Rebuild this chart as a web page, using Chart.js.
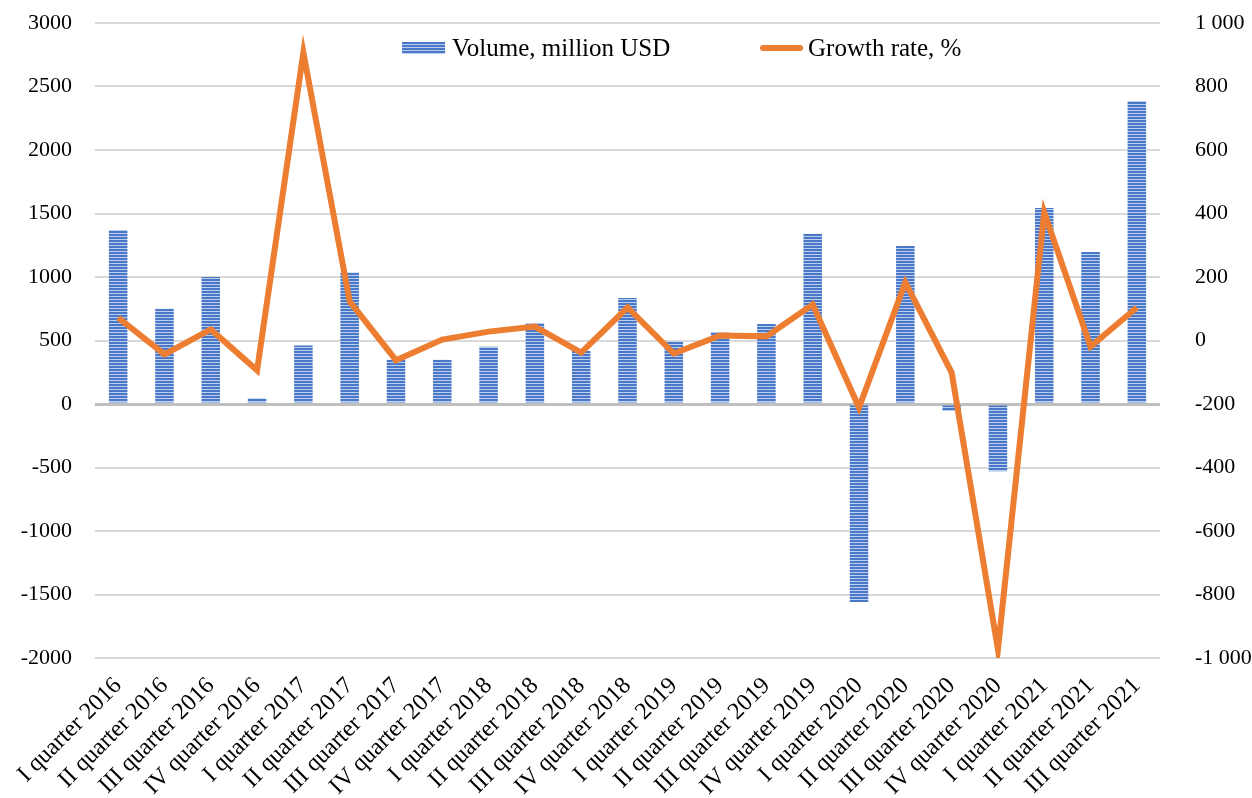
<!DOCTYPE html>
<html>
<head>
<meta charset="utf-8">
<script src="https://cdn.jsdelivr.net/npm/chart.js@4.4.0/dist/chart.umd.min.js"></script>
<style>
  body { margin: 0; background: #fff; }
</style>
</head>
<body>
<canvas id="volume-growth" width="1252" height="798"></canvas>
<script>
// quarters
const quarters = [
  'I quarter 2016', 'II quarter 2016', 'III quarter 2016', 'IV quarter 2016',
  'I quarter 2017', 'II quarter 2017', 'III quarter 2017', 'IV quarter 2017',
  'I quarter 2018', 'II quarter 2018', 'III quarter 2018', 'IV quarter 2018',
  'I quarter 2019', 'II quarter 2019', 'III quarter 2019', 'IV quarter 2019',
  'I quarter 2020', 'II quarter 2020', 'III quarter 2020', 'IV quarter 2020',
  'I quarter 2021', 'II quarter 2021', 'III quarter 2021',
]

// volume, million USD (left axis)
const volume = [
  1370, 750, 1000, 45,
  460, 1035, 348, 348,
  450, 638, 417, 835,
  490, 567, 630, 1340,
  -1560, 1245, -55, -530,
  1543, 1197, 2385,
]

// growth rate, % (right axis)
const growthRate = [
  72, -44, 35, -94,
  907, 123, -62, 3,
  28, 44, -38, 104,
  -41, 16, 13, 113,
  -211, 183, -101, -973,
  403, -19, 104,
]

const leftTicks = [-2000, -1500, -1000, -500, 0, 500, 1000, 1500, 2000, 2500, 3000]
const rightTicks = [-1000, -800, -600, -400, -200, 0, 200, 400, 600, 800, 1000]

const legendLabels = ['Volume, million USD', 'Growth rate, %']

// horizontal stripes like the original bar fill
function stripePattern() {
  const c = document.createElement('canvas')
  c.width = 4
  c.height = 3
  const p = c.getContext('2d')
  p.fillStyle = '#4a78c8'
  p.fillRect(0, 0, 4, 2)
  p.fillStyle = '#bccdee'
  p.fillRect(0, 2, 4, 1)
  return p.createPattern(c, 'repeat')
}

function spaced(v) {
  const s = String(Math.abs(v)).replace(/\B(?=(\d{3})+(?!\d))/g, ' ')
  return (v < 0 ? '-' : '') + s
}

const fontFamily = "'Liberation Serif', 'Times New Roman', serif"
const font = { family: fontFamily, size: 22 }

// legend sits inside the plot, like the original
const insideLegend = {
  id: 'insideLegend',
  afterDatasetsDraw(chart) {
    const { ctx, chartArea } = chart
    const bar = chart.data.datasets[1]
    const line = chart.data.datasets[0]
    const y = chartArea.top + 25
    const x1 = chartArea.left + 307
    const x2 = chartArea.left + 665
    ctx.save()
    ctx.fillStyle = bar.backgroundColor
    ctx.fillRect(x1, y - 6, 43, 12)
    ctx.strokeStyle = line.borderColor
    ctx.lineWidth = line.borderWidth
    ctx.lineCap = 'round'
    ctx.beginPath()
    ctx.moveTo(x2 + 3, y)
    ctx.lineTo(x2 + 40, y)
    ctx.stroke()
    ctx.fillStyle = '#000'
    ctx.font = '25px ' + fontFamily
    ctx.textBaseline = 'middle'
    ctx.fillText(legendLabels[0], x1 + 50, y + 1)
    ctx.fillText(legendLabels[1], x2 + 48, y + 1)
    ctx.restore()
  },
}

const ctx = document.getElementById('volume-growth').getContext('2d')

const chart = new Chart(ctx, {
  data: {
    labels: quarters,
    datasets: [
      {
        type: 'line',
        label: legendLabels[1],
        data: growthRate,
        yAxisID: 'y1',
        borderColor: '#ed7d31',
        backgroundColor: '#ed7d31',
        borderWidth: 6,
        pointRadius: 0,
        tension: 0,
        order: 1,
      },
      {
        type: 'bar',
        label: legendLabels[0],
        data: volume,
        yAxisID: 'y',
        backgroundColor: stripePattern(),
        borderWidth: 0,
        categoryPercentage: 1,
        barPercentage: 0.4,
        order: 2,
      },
    ],
  },
  options: {
    responsive: false,
    animation: false,
    layout: { padding: { top: 23, right: 0, left: 0, bottom: 0 } },
    scales: {
      x: {
        grid: { display: false },
        border: { display: false },
        ticks: {
          font: { family: fontFamily, size: 24 },
          color: '#000',
          maxRotation: 45,
          minRotation: 45,
          autoSkip: false,
          padding: 6,
        },
        afterFit: function (scale) { scale.height = 140 },
      },
      y: {
        position: 'left',
        min: -2000,
        max: 3000,
        afterBuildTicks: function (scale) { scale.ticks = leftTicks.map(v => ({ value: v })) },
        grid: {
          color: c => (c.tick && c.tick.value === 0 ? '#bfbfbf' : '#d9d9d9'),
          lineWidth: c => (c.tick && c.tick.value === 0 ? 3 : 2),
          drawTicks: true,
          tickLength: 23,
          tickColor: 'rgba(0,0,0,0)',
        },
        border: { display: false },
        ticks: { font: font, color: '#000', padding: 0, callback: v => String(v) },
        afterFit: function (scale) { scale.width = 95 },
      },
      y1: {
        position: 'right',
        min: -1000,
        max: 1000,
        afterBuildTicks: function (scale) { scale.ticks = rightTicks.map(v => ({ value: v })) },
        grid: {
          display: true,
          drawOnChartArea: false,
          drawTicks: true,
          tickLength: 35,
          tickColor: 'rgba(0,0,0,0)',
        },
        border: { display: false },
        ticks: { font: font, color: '#000', padding: 0, callback: v => spaced(v) },
        afterFit: function (scale) { scale.width = 92 },
      },
    },
    plugins: {
      tooltip: { enabled: false },
      legend: { display: false },
    },
  },
  plugins: [insideLegend],
})
</script>
</body>
</html>
